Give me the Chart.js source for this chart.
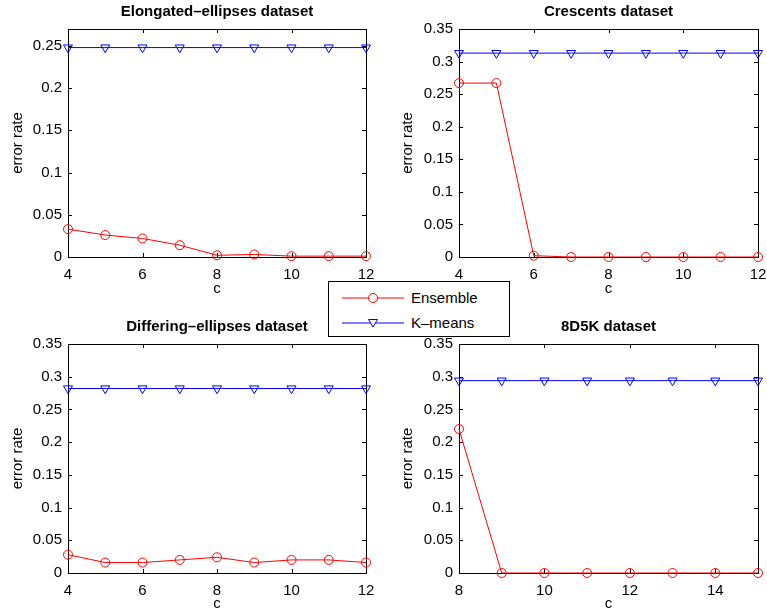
<!DOCTYPE html>
<html><head><meta charset="utf-8">
<script src="https://cdn.jsdelivr.net/npm/chart.js@4.4.0/dist/chart.umd.min.js"></script>
<style>
html,body{margin:0;padding:0;background:#fff;}
#wrap{position:relative;width:767px;height:615px;overflow:hidden;background:#fff;}
canvas{position:absolute;}
#legend{position:absolute;left:328px;top:281px;width:180px;height:54px;border:1px solid #000;background:#fff;font:15px "Liberation Sans",Arial,sans-serif;color:#000;z-index:5;}
.row{position:absolute;left:0;width:180px;height:18px;}
.row svg{position:absolute;left:13px;top:0;}
.row span{position:absolute;left:82px;top:0;line-height:18px;white-space:nowrap;}
</style></head>
<body><div id="wrap">
<canvas id="c1" width="390" height="300" style="left:0;top:0"></canvas>
<canvas id="c2" width="377" height="300" style="left:390px;top:0"></canvas>
<canvas id="c3" width="390" height="300" style="left:0;top:315px"></canvas>
<canvas id="c4" width="377" height="300" style="left:390px;top:315px"></canvas>
<div id="legend">
  <div class="row" style="top:7px"><svg width="62" height="18"><line x1="0" y1="9" x2="62" y2="9" stroke="#ff0000" stroke-width="1"/><circle cx="31" cy="9" r="4.5" fill="#fff" stroke="#ff0000" stroke-width="1"/></svg><span>Ensemble</span></div>
  <div class="row" style="top:32px"><svg width="62" height="18"><line x1="0" y1="9" x2="62" y2="9" stroke="#0000ff" stroke-width="1"/><polygon points="26.5,5.5 35.5,5.5 31,13" fill="#fff" stroke="#0000ff" stroke-width="1"/></svg><span>K–means</span></div>
</div>
</div>
<script>
// ---- data ----
const cElong = [4,5,6,7,8,9,10,11,12];
const ensembleElong = [0.033,0.026,0.022,0.014,0.002,0.003,0.001,0.001,0.001];
const kmeansElong = [0.248,0.248,0.248,0.248,0.248,0.248,0.248,0.248,0.248];

const cCresc = [4,5,6,7,8,9,10,11,12];
const ensembleCresc = [0.267,0.267,0.002,0,0,0,0,0,0];
const kmeansCresc = [0.313,0.313,0.313,0.313,0.313,0.313,0.313,0.313,0.313];

const cDiff = [4,5,6,7,8,9,10,11,12];
const ensembleDiff = [0.028,0.016,0.016,0.020,0.024,0.016,0.020,0.020,0.016];
const kmeansDiff = [0.282,0.282,0.282,0.282,0.282,0.282,0.282,0.282,0.282];

const c8D5K = [8,9,10,11,12,13,14,15];
const ensemble8D5K = [0.22,0,0,0,0,0,0,0];
const kmeans8D5K = [0.294,0.294,0.294,0.294,0.294,0.294,0.294,0.294];

const titles = ['Elongated–ellipses dataset','Crescents dataset','Differing–ellipses dataset','8D5K dataset'];
const seriesNames = ['Ensemble','K–means'];
// ---------------

const FONT = '"Liberation Sans", Arial, Helvetica, sans-serif';

const boxTicks = {
  id: 'boxTicks',
  beforeDatasetsDraw(chart) {
    const {ctx, chartArea: a, scales} = chart;
    ctx.save();
    ctx.strokeStyle = '#000';
    ctx.lineWidth = 1;
    const L = 4;
    ctx.beginPath();
    scales.x.ticks.forEach(t => {
      const px = Math.round(scales.x.getPixelForValue(t.value)) + 0.5;
      ctx.moveTo(px, a.bottom); ctx.lineTo(px, a.bottom - L);
      ctx.moveTo(px, a.top); ctx.lineTo(px, a.top + L);
    });
    scales.y.ticks.forEach(t => {
      const py = Math.round(scales.y.getPixelForValue(t.value)) + 0.5;
      ctx.moveTo(a.left, py); ctx.lineTo(a.left + L, py);
      ctx.moveTo(a.right, py); ctx.lineTo(a.right - L, py);
    });
    ctx.stroke();
    ctx.strokeRect(Math.round(a.left) + 0.5, Math.round(a.top) + 0.5, Math.round(a.right - a.left), Math.round(a.bottom - a.top));
    ctx.restore();
  }
};

function makeChart(id, title, xs, ens, km, xmin, xmax, ymax, yAxisW, xAxisH, rightPad) {
  const data = {
    datasets: [
      {
        label: seriesNames[0],
        data: xs.map((x, i) => ({x, y: ens[i]})),
        borderColor: '#ff0000', borderWidth: 1,
        pointStyle: 'circle', pointRadius: 4.5, pointBorderWidth: 1,
        pointBackgroundColor: 'rgba(0,0,0,0)', pointBorderColor: '#ff0000',
        clip: false, tension: 0
      },
      {
        label: seriesNames[1],
        data: xs.map((x, i) => ({x, y: km[i]})),
        borderColor: '#0000ff', borderWidth: 1,
        pointStyle: 'triangle', pointRotation: 180, pointRadius: 5.2, pointBorderWidth: 1,
        pointBackgroundColor: 'rgba(0,0,0,0)', pointBorderColor: '#0000ff',
        clip: false, tension: 0
      }
    ]
  };
  return new Chart(document.getElementById(id), {
    type: 'line',
    data,
    plugins: [boxTicks],
    options: {
      responsive: false, animation: false, events: [],
      layout: {padding: {left: 0, right: rightPad, top: 0, bottom: 0}},
      plugins: {
        legend: {display: false}, tooltip: {enabled: false},
        title: {display: true, text: title, fullSize: false, color: '#000',
          font: {family: FONT, size: 15, weight: 'bold', lineHeight: 1.2},
          padding: {top: 3, bottom: 8}}
      },
      scales: {
        x: {
          type: 'linear', min: xmin, max: xmax,
          grid: {display: false, drawTicks: false}, border: {display: false},
          ticks: {stepSize: 2, includeBounds: false, color: '#000', padding: 9,
            font: {family: FONT, size: 15}, maxRotation: 0,
            callback: v => String(v)},
          title: {display: true, text: 'c', color: '#000', font: {family: FONT, size: 15, lineHeight: 1.2}, padding: {top: 0, bottom: 2}},
          afterFit: s => { s.height = xAxisH; s.paddingLeft = 0; s.paddingRight = 0; }
        },
        y: {
          type: 'linear', min: 0, max: ymax,
          grid: {display: false, drawTicks: false}, border: {display: false},
          ticks: {stepSize: 0.05, includeBounds: false, color: '#000', padding: 6,
            font: {family: FONT, size: 15},
            callback: v => String(Number(v.toFixed(2)))},
          title: {display: true, text: 'error rate', color: '#000', font: {family: FONT, size: 15, lineHeight: 1.2}, padding: {top: 9, bottom: 0}},
          afterFit: s => { s.width = yAxisW; s.paddingTop = 0; s.paddingBottom = 0; }
        }
      }
    }
  });
}

makeChart('c1', titles[0], cElong, ensembleElong, kmeansElong, 4, 12, 0.27, 68, 43, 24);
makeChart('c2', titles[1], cCresc, ensembleCresc, kmeansCresc, 4, 12, 0.35, 69, 43, 9);
makeChart('c3', titles[2], cDiff, ensembleDiff, kmeansDiff, 4, 12, 0.35, 68, 42, 24);
makeChart('c4', titles[3], c8D5K, ensemble8D5K, kmeans8D5K, 8, 15, 0.35, 69, 42, 9);
</script>
</body></html>
